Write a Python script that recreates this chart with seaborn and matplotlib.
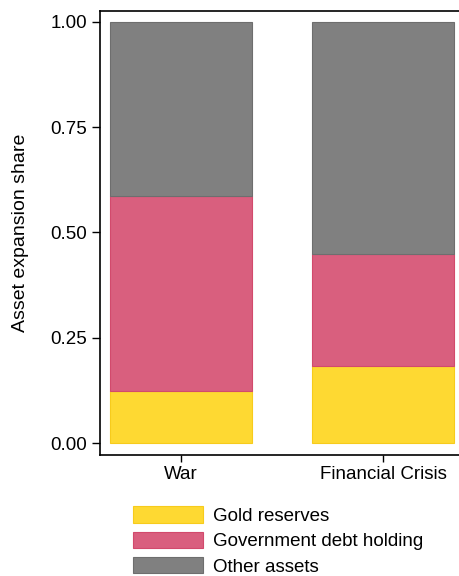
import matplotlib
matplotlib.use("Agg")
import matplotlib.pyplot as plt
import seaborn as sns
import pandas as pd

categories = ["War", "Financial Crisis"]
gold = [0.124, 0.183]
debt = [0.463, 0.266]
other = [0.413, 0.551]
series_labels = ["Gold reserves", "Government debt holding", "Other assets"]
y_ticks = [0.00, 0.25, 0.50, 0.75, 1.00]

sns.set_theme(style="white")
plt.rcParams["font.family"] = ["Liberation Sans", "DejaVu Sans"]
plt.rcParams["text.color"] = "black"
plt.rcParams["axes.labelcolor"] = "black"

fig = plt.figure(figsize=(4.6, 5.76), dpi=100)
ax = fig.add_axes([100/460, 1-455/576, 364/460, 444/576])

fills = ["#FED932", "#D95F7E", "#808080"]
edges = ["#F7CB1C", "#D24A6C", "#6E6E6E"]

bottom = [0.0, 0.0]
for vals, lab, fc, ec in zip([gold, debt, other], series_labels, fills, edges):
    df = pd.DataFrame({"cat": categories, "val": vals})
    sns.barplot(data=df, x="cat", y="val", bottom=bottom, color=fc, saturation=1,
                width=0.7, edgecolor=ec, linewidth=0.8, label=lab, ax=ax, errorbar=None)
    bottom = [b + v for b, v in zip(bottom, vals)]

ax.set_xlim(-0.4, 1.4)
ax.set_ylim(-0.0285, 1.026)
ax.set_yticks(y_ticks)
ax.set_yticklabels([f"{t:.2f}" for t in y_ticks])
ax.set_xlabel("")
ax.set_ylabel("Asset expansion share", fontsize=14, labelpad=16, color="black")
ax.tick_params(axis="y", length=6, width=1, colors="black", labelsize=13.5, pad=3, left=True)
ax.tick_params(axis="x", length=5, width=1, colors="black", labelsize=13.5, pad=3, bottom=True)
for s in ax.spines.values():
    s.set_color("black")
    s.set_linewidth(1.2)
if ax.legend_:
    ax.legend_.remove()

handles, labels = ax.get_legend_handles_labels()
leg = fig.legend(handles, labels, loc="upper left", bbox_to_anchor=(123.6/460, 1-497/576),
                 frameon=False, fontsize=13.5, handlelength=3.73, handleheight=0.96,
                 labelspacing=0.36, handletextpad=0.55, borderaxespad=0, borderpad=0.5)
for t in leg.get_texts():
    t.set_color("black")

fig.savefig("out.png", dpi=100)
